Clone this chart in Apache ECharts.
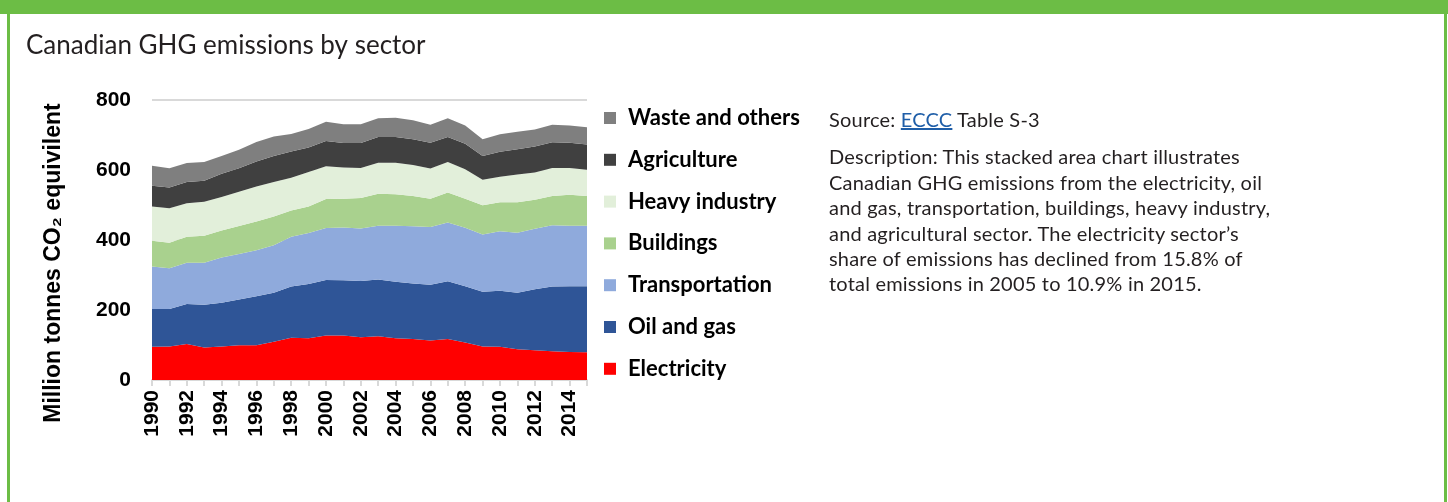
<!DOCTYPE html>
<html>
<head>
<meta charset="utf-8">
<script src="https://cdn.jsdelivr.net/npm/echarts@6/dist/echarts.min.js"></script>
<style>
  body { margin: 0; background: #fff; }
  #wrap { position: relative; width: 1448px; height: 502px; overflow: hidden; }
  #main { position: absolute; left: 0; top: 0; width: 1448px; height: 502px; }
  .bar { position: absolute; background: #6cbd45; }
  #desc {
    position: absolute; left: 829px; top: 107px;
    font-family: Lato, "Open Sans", sans-serif; font-size: 20px; letter-spacing: 0.2px; color: #231f20;
    line-height: 25.4px; white-space: nowrap;
  }
  #desc a { color: #1f5ea8; text-decoration: underline; }
  #desc p { margin: 0 0 12px 0; }
</style>
</head>
<body>
<div id="wrap">
  <div id="main"></div>
  <div class="bar" style="left:0;top:0;width:1448px;height:14px"></div>
  <div class="bar" style="left:7px;top:0;width:3px;height:502px"></div>
  <div class="bar" style="left:1444px;top:0;width:3px;height:502px"></div>
  <div id="desc">
    <p>Source: <a>ECCC</a> Table S-3</p>
    <p>Description: This stacked area chart illustrates<br>
    Canadian GHG emissions from the electricity, oil<br>
    and gas, transportation, buildings, heavy industry,<br>
    and agricultural sector. The electricity sector’s<br>
    share of emissions has declined from 15.8% of<br>
    total emissions in 2005 to 10.9% in 2015.</p>
  </div>
</div>
<script>
// years on the x axis
let years = [];
for (let y = 1990; y <= 2015; y++) years.push(String(y));

// emissions by sector, Mt CO2 eq
let electricity = [95, 96, 103, 93, 96, 99, 99, 109, 121, 119, 127, 127, 122, 125, 119, 117, 113, 117, 107, 96, 95, 88, 85, 82, 80, 79];
let oilGas = [108, 107, 114, 122, 125, 131, 140, 140, 146, 155, 159, 158, 161, 162, 162, 159, 159, 165, 161, 156, 160, 161, 174, 185, 188, 189];
let transport = [121, 116, 118, 120, 129, 130, 132, 136, 142, 146, 148, 151, 150, 154, 160, 163, 165, 168, 167, 164, 170, 172, 173, 175, 173, 173];
let buildings = [74, 73, 74, 77, 77, 80, 82, 82, 75, 76, 83, 82, 87, 91, 90, 87, 81, 86, 83, 83, 83, 87, 83, 84, 88, 85];
let heavyIndustry = [98, 99, 96, 97, 96, 98, 100, 99, 94, 98, 94, 89, 86, 89, 90, 88, 86, 87, 84, 73, 73, 79, 78, 80, 77, 75];
let agriculture = [59, 59, 61, 60, 66, 67, 71, 74, 75, 70, 72, 70, 71, 73, 73, 74, 74, 71, 73, 68, 71, 72, 74, 73, 72, 72];
let waste = [57, 55, 54, 54, 51, 53, 56, 56, 50, 53, 55, 54, 54, 54, 55, 54, 51, 54, 52, 48, 50, 50, 49, 50, 49, 49];

let sectors = [
  { name: "Electricity", data: electricity, color: "#ff0000" },
  { name: "Oil and gas", data: oilGas, color: "#2f5597" },
  { name: "Transportation", data: transport, color: "#8faadc" },
  { name: "Buildings", data: buildings, color: "#a9d18e" },
  { name: "Heavy industry", data: heavyIndustry, color: "#e2efda" },
  { name: "Agriculture", data: agriculture, color: "#404040" },
  { name: "Waste and others", data: waste, color: "#7f7f7f" }
];

let axisFont = "'Liberation Sans', Arial, sans-serif";
let myEcharts = echarts.init(document.getElementById("main"));
let option = {
  animation: false,
  title: {
    text: "Canadian GHG emissions by sector",
    left: 26,
    top: 33,
    padding: 0,
    textStyle: { fontFamily: "Lato", fontWeight: "normal", fontSize: 26, color: "#231f20" }
  },
  legend: {
    orient: "vertical",
    left: 599,
    top: 102,
    icon: "rect",
    itemWidth: 12,
    itemHeight: 12,
    itemGap: 19.8,
    textStyle: {
      fontFamily: "Lato",
      fontWeight: "bold",
      fontSize: 22,
      color: "#000",
      lineHeight: 20,
      padding: [0, 0, 0, 7]
    },
    data: sectors.map(s => s.name).reverse()
  },
  grid: { left: 152, top: 100, width: 435, height: 280, containLabel: false },
  xAxis: {
    type: "category",
    boundaryGap: false,
    data: years,
    axisLine: { lineStyle: { color: "#d9d9d9", width: 2 } },
    axisTick: { show: true, interval: 0, length: 6, lineStyle: { color: "#d9d9d9", width: 2 } },
    axisLabel: {
      interval: 1,
      rotate: 90,
      margin: 10,
      fontFamily: axisFont,
      fontWeight: "bold",
      fontSize: 21,
      color: "#000"
    }
  },
  yAxis: {
    type: "value",
    min: 0,
    max: 800,
    interval: 200,
    axisLine: { show: false },
    axisTick: { show: false },
    splitLine: { lineStyle: { color: "#d9d9d9", width: 2 } },
    axisLabel: { margin: 21, fontFamily: axisFont, fontWeight: "bold", fontSize: 21, color: "#000" }
  },
  graphic: [
    {
      type: "text",
      x: 54,
      y: 263,
      rotation: Math.PI / 2,
      style: {
        text: "Million tonnes CO₂ equivilent",
        fontFamily: axisFont,
        fontWeight: "bold",
        fontSize: 23,
        fill: "#000",
        align: "center",
        verticalAlign: "middle"
      }
    }
  ],
  series: sectors.map(s => ({
    name: s.name,
    type: "line",
    stack: "total",
    data: s.data,
    showSymbol: false,
    symbol: "none",
    lineStyle: { width: 0 },
    areaStyle: { color: s.color, opacity: 1 },
    itemStyle: { color: s.color },
    emphasis: { disabled: true }
  }))
};
myEcharts.setOption(option);
</script>
</body>
</html>
